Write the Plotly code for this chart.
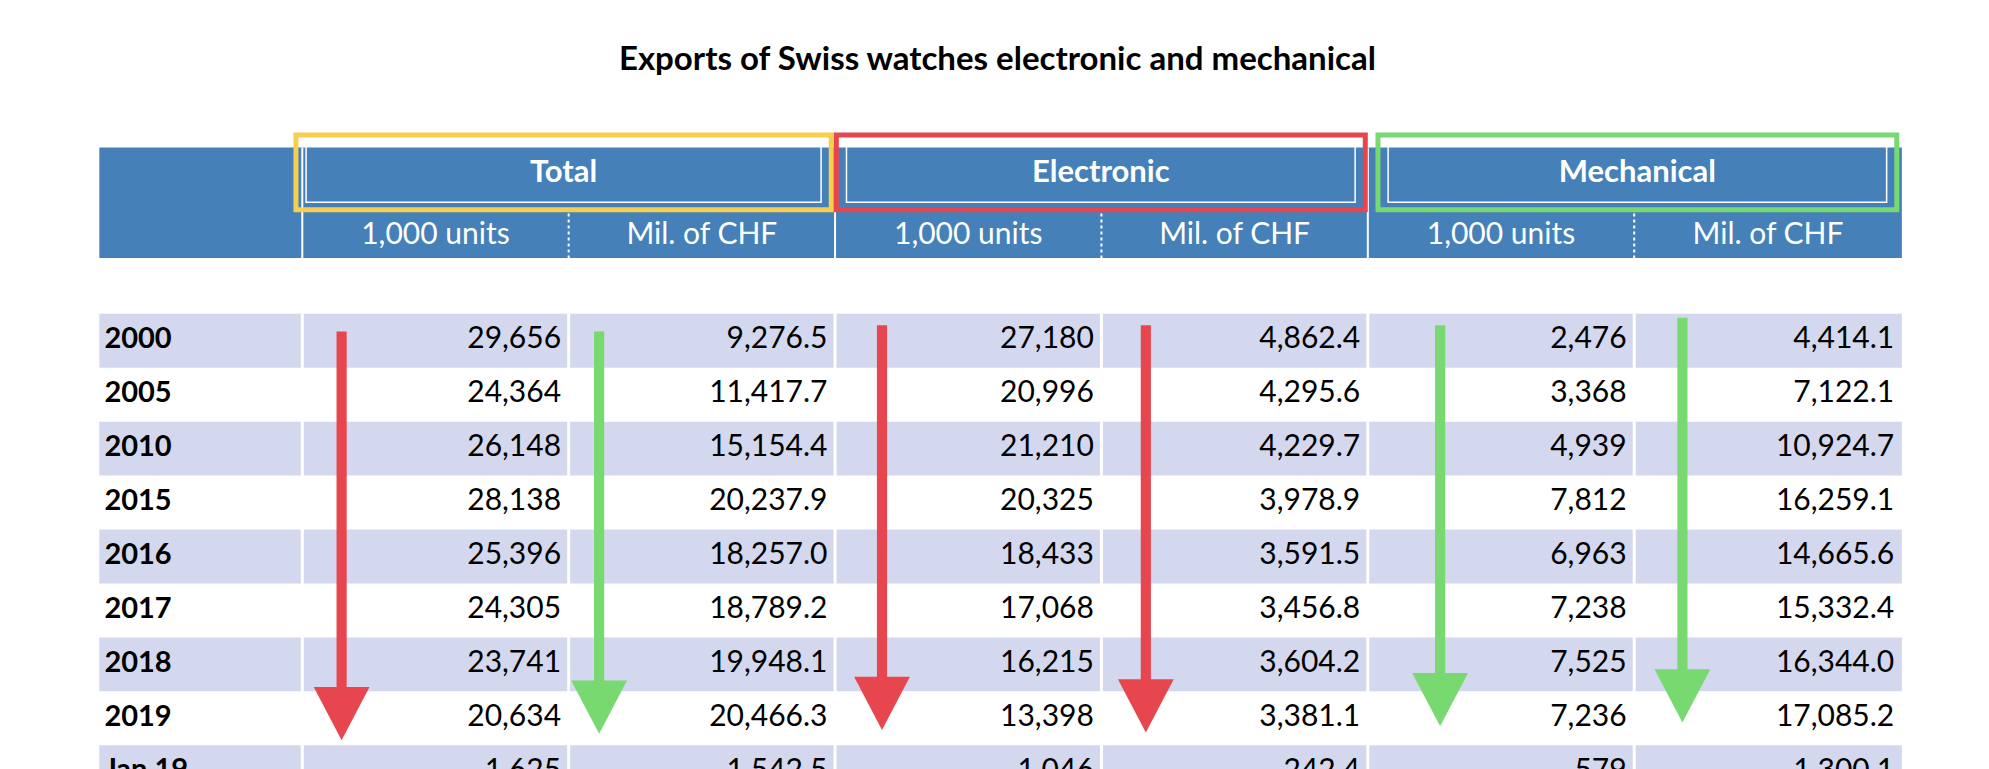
import plotly.graph_objects as go

# Data ---
years = ['2000', '2005', '2010', '2015', '2016', '2017', '2018', '2019', 'Jan 19']
total_units = ['29,656', '24,364', '26,148', '28,138', '25,396', '24,305', '23,741', '20,634', '1,625']
total_chf = ['9,276.5', '11,417.7', '15,154.4', '20,237.9', '18,257.0', '18,789.2', '19,948.1', '20,466.3', '1,542.5']
elec_units = ['27,180', '20,996', '21,210', '20,325', '18,433', '17,068', '16,215', '13,398', '1,046']
elec_chf = ['4,862.4', '4,295.6', '4,229.7', '3,978.9', '3,591.5', '3,456.8', '3,604.2', '3,381.1', '242.4']
mech_units = ['2,476', '3,368', '4,939', '7,812', '6,963', '7,238', '7,525', '7,236', '579']
mech_chf = ['4,414.1', '7,122.1', '10,924.7', '16,259.1', '14,665.6', '15,332.4', '16,344.0', '17,085.2', '1,300.1']
groups = ['Total', 'Electronic', 'Mechanical']
sub_labels = ['1,000 units', 'Mil. of CHF']
columns = [total_units, total_chf, elec_units, elec_chf, mech_units, mech_chf]
# arrow colour per column (all trends drawn as down arrows)
arrow_colors = ['#E8464E', '#77D970', '#E8464E', '#E8464E', '#77D970', '#77D970']

W, H = 1568, 606  # measuring grid of the reference
BLUE = '#4581B8'
BAND = '#D3D8EE'
FONT = 'Lato'
seps = [232, 442, 652, 862, 1072, 1282, 1493]
left = 72
row_top, row_h = 241, 42.5

fig = go.Figure()
shapes = []

def txt(xs, ys, texts, pos, size, color='black'):
    fig.add_trace(go.Scatter(x=xs, y=ys, text=texts, mode='text', textposition=pos, hoverinfo='skip',
                             textfont=dict(family=FONT, size=size, color=color), showlegend=False))

# header band
shapes.append(dict(type='rect', x0=left, x1=1493, y0=110, y1=197, fillcolor=BLUE, line_width=0, layer='below'))
for i, s in enumerate(seps[:-1]):
    top = 110 if i % 2 == 0 else 162
    shapes.append(dict(type='line', x0=s, x1=s, y0=top, y1=197,
                       line=dict(color='white', width=2, dash='dot' if i % 2 else 'solid')))

# group header boxes
box_cols = ['#F7CE4E', '#E8464E', '#77D970']
box_x = [(227, 649), (653, 1070), (1080, 1489)]
for c, (a, b) in zip(box_cols, box_x):
    shapes.append(dict(type='rect', x0=a, x1=b, y0=100, y1=159, line=dict(color=c, width=5)))
    shapes.append(dict(type='rect', x0=a + 8, x1=b - 8, y0=107, y1=153, line=dict(color='white', width=1.5)))
txt([(a + b) / 2 for a, b in box_x], [131] * 3, ['<b>%s</b>' % g for g in groups], 'middle center', 31, 'white')
txt([(seps[i] + seps[i + 1]) / 2 for i in range(6)], [180] * 6, [sub_labels[i % 2] for i in range(6)],
    'middle center', 30, 'white')

# data rows
yc = [row_top + r * row_h + row_h / 2 for r in range(len(years))]
for r in range(0, len(years), 2):
    y0 = row_top + r * row_h
    shapes.append(dict(type='rect', x0=left, x1=1493, y0=y0, y1=y0 + row_h, fillcolor=BAND, line_width=0,
                       layer='below'))
txt([76] * len(years), yc, ['<b>%s</b>' % y for y in years], 'middle right', 29)
for c, col in enumerate(columns):
    txt([seps[c + 1] - 6] * len(col), yc, col, 'middle left', 30)
for s in seps[:-1]:
    shapes.append(dict(type='line', x0=s, x1=s, y0=row_top, y1=H + 20, line=dict(color='white', width=3)))

# trend arrows
arrow_x = [263, 466, 689, 897, 1129, 1320]
arrow_y = [(255, 577), (255, 572), (250, 569), (250, 571), (250, 566), (244, 563)]
for c, (ax, (ya, yb)) in enumerate(zip(arrow_x, arrow_y)):
    col = arrow_colors[c]
    shapes.append(dict(type='rect', x0=ax - 4, x1=ax + 4, y0=ya, y1=yb - 40, fillcolor=col, line_width=0))
    path = 'M %f %f L %f %f L %f %f Z' % (ax - 22, yb - 42, ax + 22, yb - 42, ax, yb)
    shapes.append(dict(type='path', path=path, fillcolor=col, line_width=0))

txt([780], [42], ['<b>Exports of Swiss watches electronic and mechanical</b>'], 'middle center', 33)

fig.update_layout(width=1989, height=769, margin=dict(l=0, r=0, t=0, b=0), plot_bgcolor='white',
                  paper_bgcolor='white', shapes=shapes,
                  xaxis=dict(visible=False, range=[0, W], fixedrange=True),
                  yaxis=dict(visible=False, range=[H, 0], fixedrange=True))
fig.write_html('out.html')
